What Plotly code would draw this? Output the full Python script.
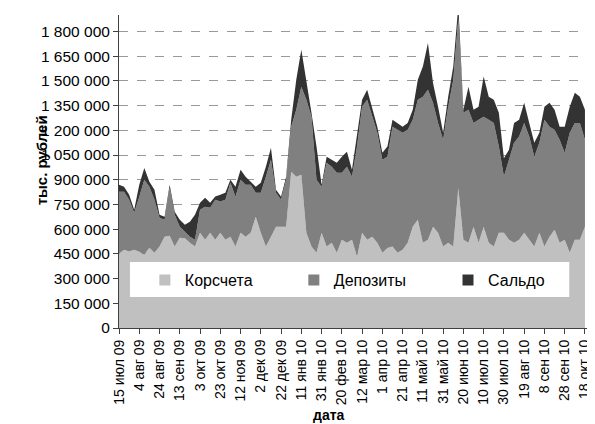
import pandas as pd
import plotly.graph_objects as go

# ---- data (thousand rubles), sampled every 5 days from 15 Jul 2009 ----
start_date = "2009-07-15"
korscheta = [450, 475, 465, 475, 463, 445, 487, 457, 494, 554, 560, 494, 548, 545, 518, 494,
             578, 536, 578, 536, 578, 536, 554, 494, 578, 554, 578, 676, 578, 494, 554, 615,
             615, 615, 948, 918, 930, 578, 494, 457, 578, 494, 518, 457, 536, 518, 536, 433,
             578, 536, 554, 518, 457, 486, 494, 457, 475, 518, 615, 657, 518, 536, 615, 578,
             494, 518, 494, 850, 536, 518, 615, 518, 615, 518, 494, 578, 578, 536, 518, 536,
             578, 536, 494, 578, 494, 554, 596, 518, 536, 457, 536, 536, 615]
depozity = [377, 352, 314, 225, 334, 455, 371, 322, 175, 103, 291, 194, 67, 40, 36, 42,
            140, 200, 152, 243, 190, 243, 328, 303, 322, 316, 292, 145, 243, 424, 467, 206,
            164, 285, 274, 407, 534, 807, 788, 443, 280, 509, 461, 485, 406, 461, 382, 668,
            765, 849, 728, 667, 564, 554, 728, 746, 710, 685, 649, 728, 886, 910, 752, 667,
            649, 825, 1013, 1030, 770, 807, 630, 746, 667, 746, 751, 523, 342, 485, 606, 626,
            667, 626, 546, 546, 770, 668, 607, 625, 528, 728, 709, 709, 528]
saldo = [43, 30, 30, 18, 73, 72, 30, 60, 19, 19, 19, 18, 42, 42, 91, 152,
         42, 55, 30, 20, 41, 42, 18, 60, 60, 48, 18, 36, 61, 61, 73, 18,
         18, 18, 42, 182, 225, 122, 24, 200, 12, 37, 42, 61, 98, 91, 42, 61,
         42, 61, 43, 37, 43, 61, 42, 42, 37, 42, 61, 122, 183, 284, 120, 98,
         42, 61, 80, 80, 19, 139, 80, 79, 245, 140, 140, 205, 110, 61, 121, 102,
         122, 83, 84, 61, 79, 145, 122, 79, 158, 158, 183, 159, 182]

tick_dates = ["2009-07-15", "2009-08-04", "2009-08-24", "2009-09-13", "2009-10-03",
              "2009-10-23", "2009-11-12", "2009-12-02", "2009-12-22", "2010-01-11",
              "2010-01-31", "2010-02-20", "2010-03-12", "2010-04-01", "2010-04-21",
              "2010-05-11", "2010-05-31", "2010-06-20", "2010-07-10", "2010-07-30",
              "2010-08-19", "2010-09-08", "2010-09-28", "2010-10-18"]
tick_labels = ["15 июл 09", "4 авг 09", "24 авг 09", "13 сен 09", "3 окт 09",
               "23 окт 09", "12 ноя 09", "2 дек 09", "22 дек 09", "11 янв 10",
               "31 янв 10", "20 фев 10", "12 мар 10", "1 апр 10", "21 апр 10",
               "11 май 10", "31 май 10", "20 июн 10", "10 июл 10", "30 июл 10",
               "19 авг 10", "8 сен 10", "28 сен 10", "18 окт 10"]
series_names = ["Корсчета", "Депозиты", "Сальдо"]

dates = pd.date_range(start_date, periods=len(korscheta), freq="5D")
colors = ["#c0c0c0", "#808080", "#333333"]
FONT = "Liberation Sans, Arial, sans-serif"

fig = go.Figure()
for name, vals, col in zip(series_names, [korscheta, depozity, saldo], colors):
    fig.add_trace(go.Scatter(
        x=dates, y=[v * 1000 for v in vals], name=name, mode="lines",
        stackgroup="one", line=dict(width=0, color=col), fillcolor=col,
        showlegend=False, hoverinfo="skip"))
# legend entries (square markers), one legend per entry for exact spacing
legend_ids = ["legend", "legend2", "legend3"]
for name, col, lid in zip(series_names, colors, legend_ids):
    fig.add_trace(go.Scatter(x=[None], y=[None], mode="markers", name=name,
                             marker=dict(symbol="square", size=11, color=col),
                             legend=lid))

legend_style = dict(orientation="h", xanchor="left", y=0.153, yanchor="middle",
                    bgcolor="rgba(0,0,0,0)", font=dict(size=16, family=FONT),
                    itemwidth=30)

# page body has an 8px default margin, so the figure is 8px smaller than the window
fig.update_layout(
    width=587, height=416,
    margin=dict(l=111, r=3, t=7, b=96),
    paper_bgcolor="white", plot_bgcolor="white",
    font=dict(family=FONT, color="black", size=14),
    separators=". ",
    showlegend=True,
    legend=dict(x=0.055, **legend_style),
    legend2=dict(x=0.372, **legend_style),
    legend3=dict(x=0.700, **legend_style),
    shapes=[dict(type="rect", xref="paper", yref="paper", x0=0.0233, x1=0.958,
                 y0=0.099, y1=0.211, fillcolor="white", line=dict(width=0),
                 layer="above")],
    annotations=[
        dict(text="<b>тыс. рублей</b>", xref="paper", yref="paper", x=-0.163, y=0.537,
             xanchor="center", yanchor="middle",
             showarrow=False, textangle=-90, font=dict(size=15, family=FONT)),
        dict(text="<b>дата</b>", xref="paper", yref="paper", x=0.446, y=-0.278,
             xanchor="center", yanchor="middle",
             showarrow=False, font=dict(size=14, family=FONT)),
    ],
)
fig.update_xaxes(
    type="date", range=["2009-07-15", "2010-10-22"],
    tickvals=tick_dates, ticktext=tick_labels, tickangle=-90,
    tickfont=dict(size=14, family=FONT), ticklabeloverflow="allow",
    ticks="outside", ticklen=5, tickcolor="#404040",
    showline=True, linecolor="#404040", linewidth=1, showgrid=False, zeroline=False)
fig.update_yaxes(
    range=[0, 1900000], tick0=0, dtick=150000, tickformat=",d",
    tickfont=dict(size=15.5, family=FONT),
    ticks="outside", ticklen=5, tickcolor="#404040",
    showline=True, linecolor="#404040", linewidth=1,
    showgrid=True, gridcolor="#999999", griddash="dash", gridwidth=1, zeroline=False)

fig.write_html("out.html")
